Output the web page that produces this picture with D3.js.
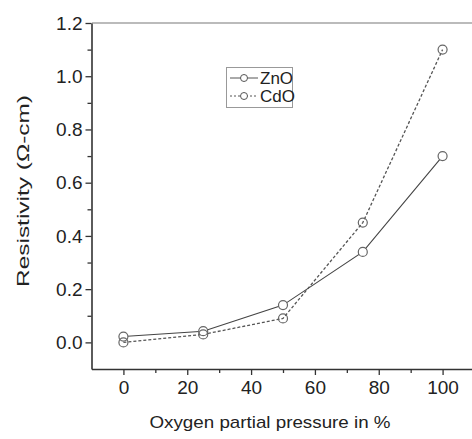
<!DOCTYPE html>
<html><head><meta charset="utf-8">
<script src="https://cdn.jsdelivr.net/npm/d3@7"></script>
<style>
html,body{margin:0;padding:0;background:#fff;}
text{font-family:"Liberation Sans",Arial,sans-serif;fill:#222;}
</style></head>
<body><svg id="c" width="472" height="439"></svg>
<script>
const pressure = [0, 25, 50, 75, 100];
const znoValues = [0.022, 0.042, 0.14, 0.34, 0.70];
const cdoValues = [0.0, 0.03, 0.09, 0.45, 1.10];
const seriesNames = ["ZnO", "CdO"];
const xTicks = [0, 20, 40, 60, 80, 100];
const xMinor = [10, 30, 50, 70, 90];
const yTicks = [0.0, 0.2, 0.4, 0.6, 0.8, 1.0, 1.2];
const yMinor = [0.1, 0.3, 0.5, 0.7, 0.9, 1.1];

const svg = d3.select("#c");
const x = d3.scaleLinear().domain([-10, 110]).range([91.5, 474.5]);
const y = d3.scaleLinear().domain([-0.1, 1.2]).range([369, 23]);
const axisColor = "#333";

// top border
svg.append("line").attr("x1", 92).attr("x2", 472).attr("y1", y(1.2)).attr("y2", y(1.2))
  .attr("stroke", "#bbb").attr("stroke-width", 2);

// x axis
const gx = svg.append("g").attr("transform", `translate(0,${y(-0.1)})`);
gx.call(d3.axisBottom(x).tickValues(xMinor).tickSize(4).tickFormat("").tickSizeOuter(0));
gx.call(g => g.select(".domain").remove());
const gx2 = svg.append("g").attr("transform", `translate(0,${y(-0.1)})`);
gx2.call(d3.axisBottom(x).tickValues(xTicks).tickSize(6).tickPadding(6).tickSizeOuter(0).tickFormat(d3.format("d")));
[gx, gx2].forEach(g => {
  g.selectAll("line").attr("stroke", axisColor).attr("stroke-width", 1.3);
  g.selectAll("text").attr("font-size", 19).attr("fill", "#222").attr("font-family", "Liberation Sans, Arial, sans-serif");
});
gx2.select(".domain").attr("stroke", axisColor).attr("stroke-width", 1.6);

// y axis
const gy = svg.append("g").attr("transform", `translate(${x(-10)},0)`);
gy.call(d3.axisLeft(y).tickValues(yMinor).tickSize(4).tickFormat("").tickSizeOuter(0));
gy.call(g => g.select(".domain").remove());
const gy2 = svg.append("g").attr("transform", `translate(${x(-10)},0)`);
gy2.call(d3.axisLeft(y).tickValues(yTicks).tickSize(6).tickPadding(3).tickSizeOuter(0).tickFormat(d3.format(".1f")));
[gy, gy2].forEach(g => {
  g.selectAll("line").attr("stroke", axisColor).attr("stroke-width", 1.3);
  g.selectAll("text").attr("font-size", 19).attr("fill", "#222").attr("font-family", "Liberation Sans, Arial, sans-serif");
});
gy2.select(".domain").attr("stroke", axisColor).attr("stroke-width", 1.6);

// lines
const line = d3.line().x((d, i) => x(pressure[i])).y(d => y(d));
svg.append("path").datum(znoValues).attr("d", line).attr("fill", "none")
  .attr("stroke", "#444").attr("stroke-width", 1.1);
svg.append("path").datum(cdoValues).attr("d", line).attr("fill", "none")
  .attr("stroke", "#555").attr("stroke-width", 1.3).attr("stroke-dasharray", "3,2");

svg.append("g").selectAll("circle").data(znoValues).join("circle")
  .attr("cx", (d, i) => x(pressure[i])).attr("cy", d => y(d)).attr("r", 4.5)
  .attr("fill", "#fff").attr("stroke", "#666").attr("stroke-width", 1.2);
svg.append("g").selectAll("circle").data(cdoValues).join("circle")
  .attr("cx", (d, i) => x(pressure[i])).attr("cy", d => y(d)).attr("r", 4.5)
  .attr("fill", "none").attr("stroke", "#666").attr("stroke-width", 1.2);

// legend
const lg = svg.append("g");
lg.append("rect").attr("x", 226.5).attr("y", 67.5).attr("width", 66).attr("height", 40)
  .attr("fill", "#fff").attr("stroke", "#999").attr("stroke-width", 1);
const legY = [78, 96];
seriesNames.forEach((name, i) => {
  lg.append("line").attr("x1", 230).attr("x2", 258).attr("y1", legY[i]).attr("y2", legY[i])
    .attr("stroke", "#555").attr("stroke-width", 1)
    .attr("stroke-dasharray", i === 1 ? "2,2" : null);
  lg.append("circle").attr("cx", 244).attr("cy", legY[i]).attr("r", 3.5)
    .attr("fill", "#fff").attr("stroke", "#555").attr("stroke-width", 1);
  lg.append("text").attr("x", 260).attr("y", legY[i] + 6).attr("font-size", 17).text(name);
});

// titles
svg.append("text").attr("x", 270).attr("y", 428).attr("text-anchor", "middle")
  .attr("font-size", 17).attr("textLength", 241).attr("lengthAdjust", "spacingAndGlyphs")
  .text("Oxygen partial pressure in %");
svg.append("text").attr("transform", "translate(29,191) rotate(-90)").attr("text-anchor", "middle")
  .attr("font-size", 17).attr("textLength", 192).attr("lengthAdjust", "spacingAndGlyphs")
  .text("Resistivity  (Ω-cm)");
</script></body></html>
